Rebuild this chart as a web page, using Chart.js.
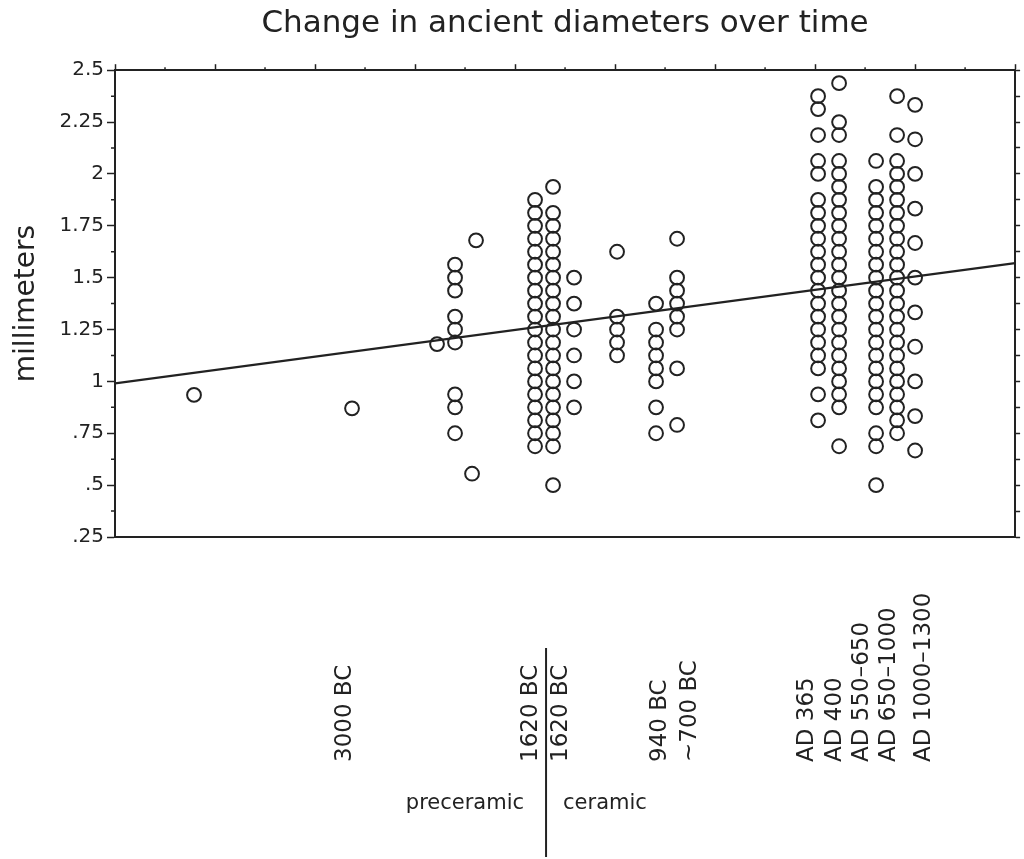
<!DOCTYPE html>
<html>
<head>
<meta charset="utf-8">
<title>Change in ancient diameters over time</title>
<script src="https://cdn.jsdelivr.net/npm/chart.js@4.4.1/dist/chart.umd.min.js"></script>
<style>
  html, body { margin: 0; padding: 0; background: #fff; }
  #wrap { width: 1024px; height: 859px; }
</style>
</head>
<body>
<div id="wrap"><canvas id="chart"></canvas></div>
<script>
// column positions along the (unlabelled) time axis, 0..9
const columnX = [0.79, 2.37, 3.22, 3.40, 3.57, 3.61, 4.20, 4.38, 4.59, 5.02, 5.41, 5.62, 7.03, 7.24, 7.61, 7.82, 8.00];

// diameters (mm) measured in each column
const columnValues = [
  [0.935],
  [0.87],
  [1.18],
  [1.5625, 1.5, 1.4375, 1.3125, 1.25, 1.1875, 0.9375, 0.875, 0.75],
  [0.555],
  [1.68],
  [1.875, 1.8125, 1.75, 1.6875, 1.625, 1.5625, 1.5, 1.4375, 1.375, 1.3125, 1.25, 1.1875, 1.125, 1.0625, 1.0, 0.9375, 0.875, 0.8125, 0.75, 0.6875],
  [1.9375, 1.8125, 1.75, 1.6875, 1.625, 1.5625, 1.5, 1.4375, 1.375, 1.3125, 1.25, 1.1875, 1.125, 1.0625, 1.0, 0.9375, 0.875, 0.8125, 0.75, 0.6875, 0.5],
  [1.5, 1.375, 1.25, 1.125, 1.0, 0.875],
  [1.625, 1.3125, 1.25, 1.1875, 1.125],
  [1.375, 1.25, 1.1875, 1.125, 1.0625, 1.0, 0.875, 0.75],
  [1.6875, 1.5, 1.4375, 1.375, 1.3125, 1.25, 1.0625, 0.79],
  [2.375, 2.3125, 2.1875, 2.0625, 2.0, 1.875, 1.8125, 1.75, 1.6875, 1.625, 1.5625, 1.5, 1.4375, 1.375, 1.3125, 1.25, 1.1875, 1.125, 1.0625, 0.9375, 0.8125],
  [2.4375, 2.25, 2.1875, 2.0625, 2.0, 1.9375, 1.875, 1.8125, 1.75, 1.6875, 1.625, 1.5625, 1.5, 1.4375, 1.375, 1.3125, 1.25, 1.1875, 1.125, 1.0625, 1.0, 0.9375, 0.875, 0.6875],
  [2.0625, 1.9375, 1.875, 1.8125, 1.75, 1.6875, 1.625, 1.5625, 1.5, 1.4375, 1.375, 1.3125, 1.25, 1.1875, 1.125, 1.0625, 1.0, 0.9375, 0.875, 0.75, 0.6875, 0.5],
  [2.375, 2.1875, 2.0625, 2.0, 1.9375, 1.875, 1.8125, 1.75, 1.6875, 1.625, 1.5625, 1.5, 1.4375, 1.375, 1.3125, 1.25, 1.1875, 1.125, 1.0625, 1.0, 0.9375, 0.875, 0.8125, 0.75],
  [2.333, 2.167, 2.0, 1.833, 1.667, 1.5, 1.333, 1.167, 1.0, 0.833, 0.667]
];

// fitted trend line (end points)
const trendX = [0, 9];
const trendY = [0.99, 1.57];

// period labels under the plot
const periodLabels = ['3000 BC', '1620 BC', '1620 BC', '940 BC', '~700 BC', 'AD 365', 'AD 400', 'AD 550\u2013650', 'AD 650\u20131000', 'AD 1000\u20131300'];
const periodX = [2.30, 4.16, 4.46, 5.45, 5.75, 6.92, 7.20, 7.47, 7.74, 8.09];

// preceramic / ceramic split
const dividerX = 4.31;
const eraLabels = ['preceramic', 'ceramic'];

const yTicks = [0.25, 2.5];

const ink = '#222222';
const font = 'DejaVu Sans';

const points = [];
columnX.forEach((x, i) => {
  columnValues[i].forEach(v => points.push({ x: x, y: v }));
});
const trend = trendX.map((x, i) => ({ x: x, y: trendY[i] }));

// minor frame ticks + the period labels below the axis
const extras = {
  id: 'extras',
  afterDraw(chart) {
    const { ctx, chartArea: a } = chart;
    const x = chart.scales.x;
    const y = chart.scales.y;
    ctx.save();
    ctx.strokeStyle = ink;
    ctx.lineWidth = 1.5;
    ctx.beginPath();
    for (let v = yTicks[0] + 0.125; v < yTicks[1]; v += 0.25) {
      const py = y.getPixelForValue(v);
      ctx.moveTo(a.left - 4, py);
      ctx.lineTo(a.left, py);
    }
    for (let v = 0.5; v < 9; v += 1) {
      const px = x.getPixelForValue(v);
      ctx.moveTo(px, a.top - 3);
      ctx.lineTo(px, a.top);
    }
    ctx.stroke();

    ctx.fillStyle = ink;
    ctx.font = '23px "' + font + '"';
    ctx.textAlign = 'left';
    ctx.textBaseline = 'middle';
    periodLabels.forEach((t, i) => {
      ctx.save();
      ctx.translate(x.getPixelForValue(periodX[i]), 762);
      ctx.rotate(-Math.PI / 2);
      ctx.fillText(t, 0, 0);
      ctx.restore();
    });

    const dx = x.getPixelForValue(dividerX);
    ctx.lineWidth = 2;
    ctx.beginPath();
    ctx.moveTo(dx, 648);
    ctx.lineTo(dx, 857);
    ctx.stroke();

    ctx.font = '21px "' + font + '"';
    ctx.textAlign = 'right';
    ctx.fillText(eraLabels[0], dx - 22, 804);
    ctx.textAlign = 'left';
    ctx.fillText(eraLabels[1], dx + 17, 804);
    ctx.restore();
  }
};

new Chart(document.getElementById('chart'), {
  type: 'scatter',
  data: {
    datasets: [
      {
        label: 'diameter',
        data: points,
        pointRadius: 6.9,
        pointBorderWidth: 2,
        pointBorderColor: ink,
        pointBackgroundColor: 'rgba(0,0,0,0)'
      },
      {
        type: 'line',
        label: 'trend',
        data: trend,
        borderColor: ink,
        borderWidth: 2.2,
        pointRadius: 0,
        fill: false
      }
    ]
  },
  options: {
    responsive: true,
    maintainAspectRatio: false,
    animation: false,
    layout: { padding: 0 },
    plugins: {
      legend: { display: false },
      tooltip: { enabled: false },
      title: {
        display: true,
        text: 'Change in ancient diameters over time',
        fullSize: false,
        color: ink,
        font: { family: font, size: 31, weight: 'normal', lineHeight: 1.2 },
        padding: { top: 5, bottom: 0 }
      }
    },
    scales: {
      x: {
        type: 'linear',
        position: 'bottom',
        min: 0,
        max: 9,
        ticks: { display: false },
        grid: { display: false },
        border: { display: true, color: ink, width: 2 },
        afterFit: s => { s.height = 322; }
      },
      x2: {
        type: 'linear',
        position: 'top',
        min: 0,
        max: 9,
        ticks: { display: false, stepSize: 1 },
        grid: { drawOnChartArea: false, tickLength: 6, tickColor: ink, tickWidth: 1.5 },
        border: { display: true, color: ink, width: 2 },
        afterFit: s => { s.height = 28; }
      },
      y: {
        type: 'linear',
        position: 'left',
        min: yTicks[0],
        max: yTicks[1],
        ticks: {
          stepSize: 0.25,
          padding: 3,
          color: ink,
          font: { family: font, size: 20 },
          callback: v => (v < 1 ? String(v).replace(/^0/, '') : String(v))
        },
        grid: { drawOnChartArea: false, tickLength: 8, tickColor: ink, tickWidth: 1.5 },
        border: { display: true, color: ink, width: 2 },
        title: {
          display: true,
          text: 'millimeters',
          color: ink,
          font: { family: font, size: 28, weight: 'normal' },
          padding: { top: 10, bottom: 0 }
        },
        afterFit: s => { s.width = 115; }
      },
      y2: {
        type: 'linear',
        position: 'right',
        min: yTicks[0],
        max: yTicks[1],
        ticks: { display: false, stepSize: 0.125 },
        grid: { drawOnChartArea: false, tickLength: 5, tickColor: ink, tickWidth: 1.5 },
        border: { display: true, color: ink, width: 2 },
        afterFit: s => { s.width = 5; }
      }
    }
  },
  plugins: [extras]
});
</script>
</body>
</html>
